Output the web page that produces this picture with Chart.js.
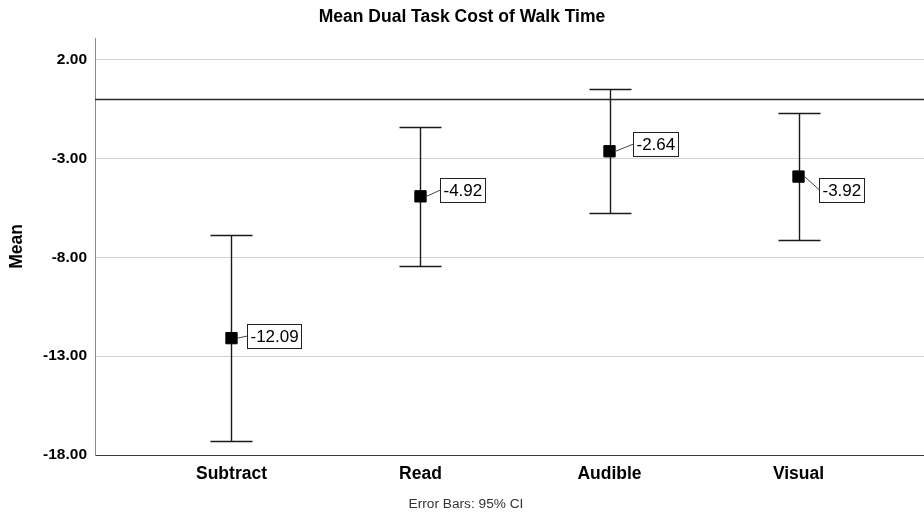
<!DOCTYPE html>
<html>
<head>
<meta charset="utf-8">
<title>Mean Dual Task Cost of Walk Time</title>
<script src="https://cdn.jsdelivr.net/npm/chart.js@4/dist/chart.umd.min.js"></script>
<style>
  html, body { margin: 0; padding: 0; background: #ffffff; }
  canvas { display: block; }
</style>
</head>
<body>
<canvas id="chart" width="924" height="516"></canvas>
<script>
// Task conditions and their mean dual task cost with 95% confidence limits
const categories = ['Subtract', 'Read', 'Audible', 'Visual'];
const meanValues = [-12.09, -4.92, -2.64, -3.92];
const ciUpper = [-6.89, -1.42, 0.49, -0.69];
const ciLower = [-17.29, -8.42, -5.77, -7.14];
const yTickValues = [2, -3, -8, -13, -18];
const referenceValue = 0;

const FONT = "'Liberation Sans', Arial, Helvetica, sans-serif";

// Where each value box sits relative to its marker (pixels)
const labelOffsets = [
  { dx: 16, dy: -2 },
  { dx: 20, dy: -6 },
  { dx: 23, dy: -7 },
  { dx: 20, dy: 13 }
];

// Horizontal reference line at zero plus the CI whiskers
const errorBarPlugin = {
  id: 'errorBars',
  beforeDatasetsDraw(chart) {
    const { ctx, chartArea, scales } = chart;
    const xs = scales.x, ys = scales.y;
    ctx.save();
    // reference line
    const yRef = Math.round(ys.getPixelForValue(referenceValue)) + 0.5;
    ctx.strokeStyle = '#2b2b2b';
    ctx.lineWidth = 1.4;
    ctx.beginPath();
    ctx.moveTo(chartArea.left, yRef);
    ctx.lineTo(chartArea.right, yRef);
    ctx.stroke();
    // whiskers
    const capHalf = 21;
    ctx.strokeStyle = '#1a1a1a';
    ctx.lineWidth = 1.4;
    categories.forEach((c, i) => {
      const x = Math.round(xs.getPixelForValue(i)) + 0.5;
      const yTop = Math.round(ys.getPixelForValue(ciUpper[i])) + 0.5;
      const yBot = Math.round(ys.getPixelForValue(ciLower[i])) + 0.5;
      ctx.beginPath();
      ctx.moveTo(x, yTop); ctx.lineTo(x, yBot);
      ctx.moveTo(x - capHalf, yTop); ctx.lineTo(x + capHalf, yTop);
      ctx.moveTo(x - capHalf, yBot); ctx.lineTo(x + capHalf, yBot);
      ctx.stroke();
    });
    ctx.restore();
  }
};

// Boxed mean labels joined to their markers
const valueLabelPlugin = {
  id: 'valueLabels',
  afterDatasetsDraw(chart) {
    const { ctx } = chart;
    const meta = chart.getDatasetMeta(0);
    ctx.save();
    ctx.font = '17px ' + FONT;
    ctx.textBaseline = 'middle';
    ctx.textAlign = 'left';
    meta.data.forEach((pt, i) => {
      const text = meanValues[i].toFixed(2);
      const off = labelOffsets[i];
      const tw = ctx.measureText(text).width;
      const w = Math.round(tw + 6), h = 24;
      const left = Math.round(pt.x + off.dx) + 0.5;
      const cy = Math.round(pt.y + off.dy);
      const top = cy - h / 2 + 0.5;
      // connector
      ctx.strokeStyle = '#444';
      ctx.lineWidth = 1;
      ctx.beginPath();
      ctx.moveTo(pt.x + 6, pt.y);
      ctx.lineTo(left, cy);
      ctx.stroke();
      // box
      ctx.fillStyle = '#ffffff';
      ctx.fillRect(left, top, w, h);
      ctx.strokeStyle = '#222';
      ctx.strokeRect(left, top, w, h);
      ctx.fillStyle = '#000';
      ctx.fillText(text, left + 3, cy + 1);
    });
    ctx.restore();
  }
};

// Footnote under the category axis
const footnotePlugin = {
  id: 'footnote',
  afterDraw(chart) {
    const { ctx } = chart;
    ctx.save();
    ctx.font = '13.7px ' + FONT;
    ctx.fillStyle = '#333';
    ctx.textAlign = 'center';
    ctx.textBaseline = 'middle';
    ctx.fillText('Error Bars: 95% CI', 466, 504);
    ctx.restore();
  }
};

new Chart(document.getElementById('chart'), {
  type: 'scatter',
  data: {
    datasets: [{
      label: 'Mean',
      data: meanValues.map((v, i) => ({ x: i, y: v })),
      pointStyle: 'rect',
      pointRadius: 8,
      pointHoverRadius: 8,
      backgroundColor: '#000000',
      borderColor: '#000000',
      borderWidth: 1,
      showLine: false
    }]
  },
  options: {
    responsive: false,
    animation: false,
    layout: { autoPadding: false, padding: { left: 0, right: 0, top: 0, bottom: 0 } },
    plugins: {
      legend: { display: false },
      tooltip: { enabled: false },
      title: {
        display: true,
        text: 'Mean Dual Task Cost of Walk Time',
        color: '#000',
        font: { family: FONT, size: 17.5, weight: 'bold', lineHeight: 1.2 },
        padding: { top: 7, bottom: 10 }
      }
    },
    scales: {
      x: {
        type: 'linear',
        min: -0.7222,
        max: 3.664,
        afterBuildTicks(scale) {
          scale.ticks = categories.map((c, i) => ({ value: i }));
        },
        afterFit(scale) {
          scale.height = 61;
          scale.paddingLeft = 0;
          scale.paddingRight = 0;
        },
        ticks: {
          callback: (v) => categories[v] ?? '',
          color: '#000',
          font: { family: FONT, size: 17.5, weight: 'bold', lineHeight: 1.2 },
          padding: 9,
          maxRotation: 0,
          autoSkip: false
        },
        grid: { display: false, drawTicks: false },
        border: { display: true, color: '#3a3a3a', width: 1 }
      },
      y: {
        type: 'linear',
        min: -18,
        max: 3.087,
        afterBuildTicks(scale) {
          scale.ticks = yTickValues.map(v => ({ value: v }));
        },
        afterFit(scale) { scale.width = 95; },
        ticks: {
          callback: (v) => Number(v).toFixed(2),
          color: '#000',
          font: { family: FONT, size: 15.5, weight: 'bold' },
          padding: 8
        },
        grid: { color: '#d2d2d2', lineWidth: 1, drawTicks: false },
        border: { display: true, color: '#8c8c8c', width: 1 },
        title: {
          display: true,
          text: 'Mean',
          color: '#000',
          font: { family: FONT, size: 17.5, weight: 'bold', lineHeight: 1.2 },
          padding: { top: 6.5, bottom: 0 }
        }
      }
    }
  },
  plugins: [errorBarPlugin, valueLabelPlugin, footnotePlugin]
});
</script>
</body>
</html>
